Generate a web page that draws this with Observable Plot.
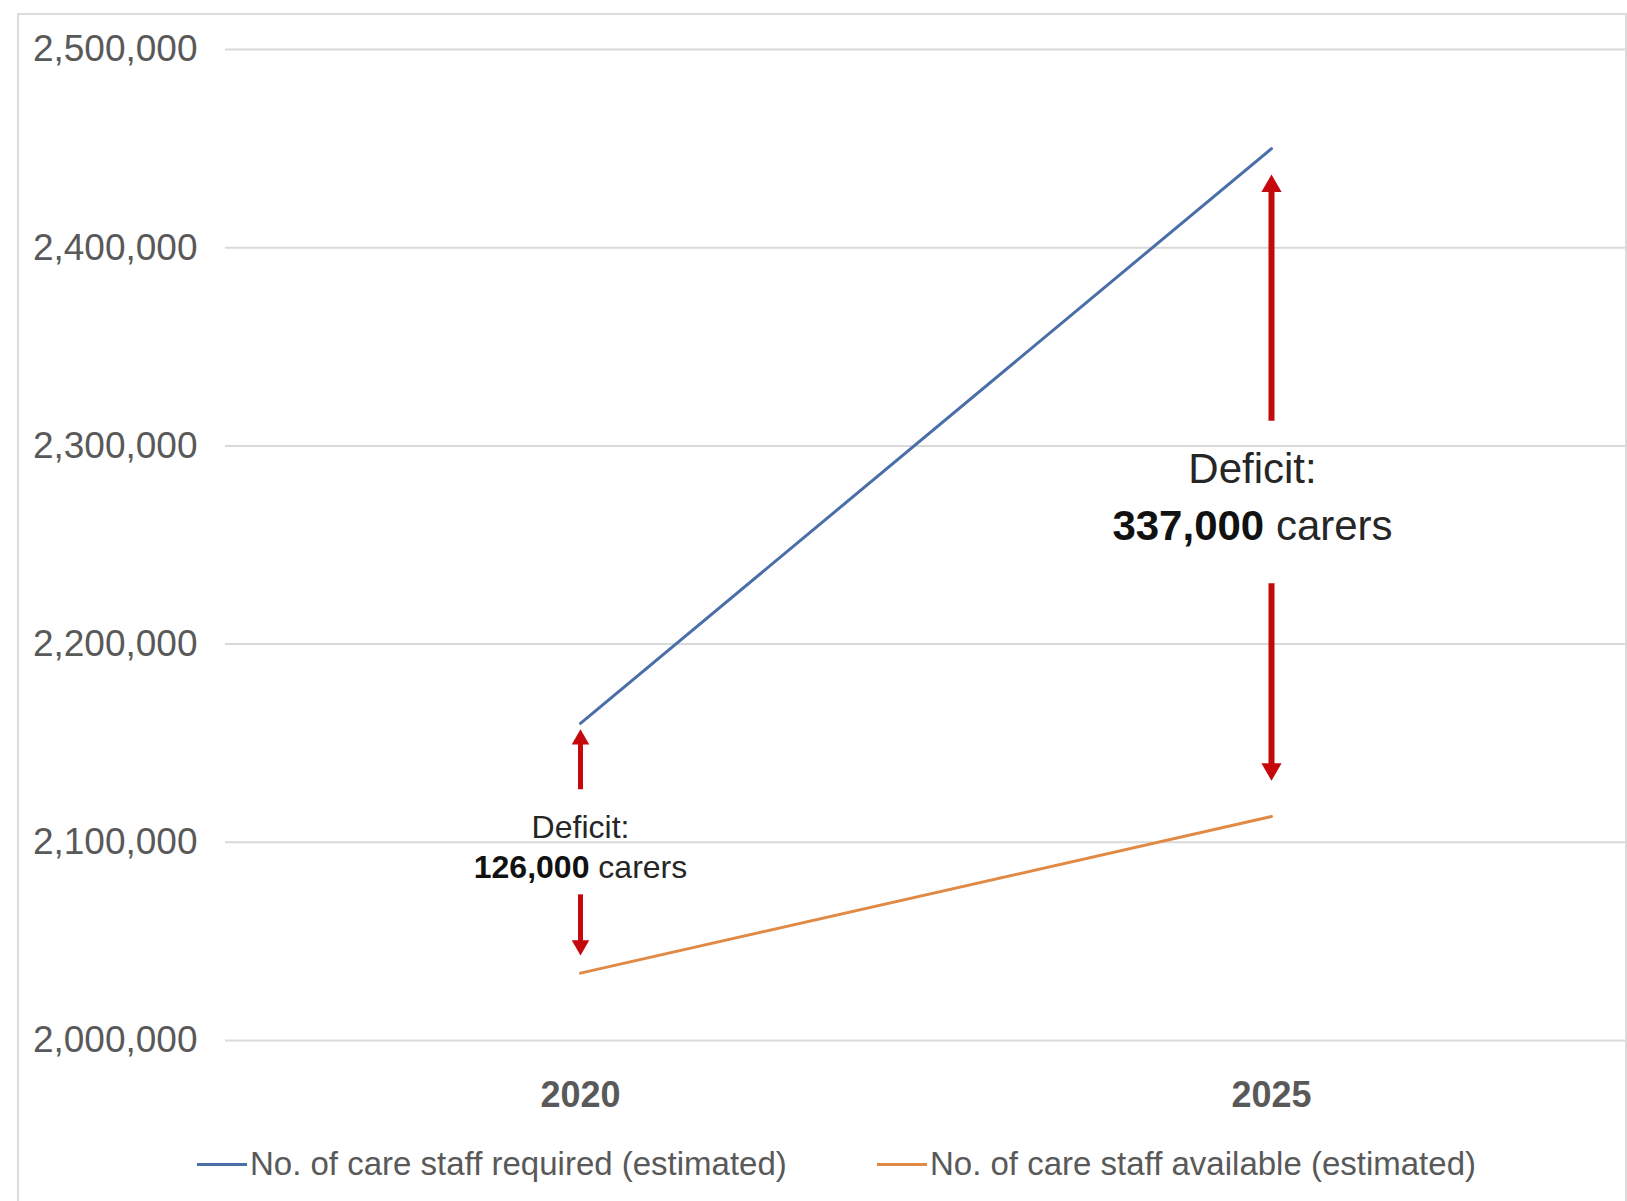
<!DOCTYPE html>
<html><head><meta charset="utf-8">
<script src="https://cdn.jsdelivr.net/npm/d3@7"></script>
<script src="https://cdn.jsdelivr.net/npm/@observablehq/plot@0.6"></script>
<style>
html,body{margin:0;padding:0;background:#fff;}
body{width:1627px;height:1201px;position:relative;overflow:hidden;font-family:"Liberation Sans",Arial,sans-serif;}
#frame{position:absolute;left:17px;top:13px;width:1610px;height:1250px;border:2px solid #dcdcdc;box-sizing:border-box;}
#chart{position:absolute;left:0;top:0;}
#legend{position:absolute;left:0;top:1120px;width:1627px;height:90px;}
.item{position:absolute;top:0;height:88px;display:flex;align-items:center;font-size:33px;color:#595959;white-space:nowrap;}
.sw{width:50px;height:3px;margin-right:3px;}
</style></head><body>
<div id="frame"></div><div id="chart"></div><div id="legend"></div>
<script>
const years = ["2020", "2025"];
const seriesNames = ["No. of care staff required (estimated)", "No. of care staff available (estimated)"];
const requiredStaff = [2160000, 2450000];
const availableStaff = [2034000, 2113000];
const yTicks = [2000000, 2100000, 2200000, 2300000, 2400000, 2500000];
const deficitHeading = ["Deficit:", "Deficit:"];
const deficitText = ["126,000 carers", "337,000 carers"];
const headingY = [2107500, 2288000];
const amountY = [2087000, 2259500];
const upTip = [2157000, 2437000];
const upTail = [2126500, 2312500];
const downTail = [2073500, 2230500];
const downTip = [2043000, 2131000];
const seriesColors = ["#4a6fa8", "#e08a45"];

const lineData = years.flatMap((yr, i) => [
  {year: yr, value: requiredStaff[i], series: seriesNames[0]},
  {year: yr, value: availableStaff[i], series: seriesNames[1]}
]);
const notes = years.map((yr, i) => ({
  year: yr, upTip: upTip[i], upTail: upTail[i], downTail: downTail[i], downTip: downTip[i],
  heading: deficitHeading[i], text: deficitText[i], headingY: headingY[i], amountY: amountY[i]
}));
const small = notes.filter(d => d.year === "2020");
const big = notes.filter(d => d.year === "2025");
const red = "#c4080c";

function arrowMarks(data, w, r, off, fs, tdx) {
  return [
    Plot.ruleX(data, {x: "year", y1: "upTip", y2: "upTail", stroke: red, strokeWidth: w, insetTop: off}),
    Plot.ruleX(data, {x: "year", y1: "downTail", y2: "downTip", stroke: red, strokeWidth: w, insetBottom: off}),
    Plot.dot(data, {x: "year", y: "upTip", symbol: "triangle", r, fill: red, stroke: null, dy: off}),
    Plot.dot(data, {x: "year", y: "downTip", symbol: "triangle", r, fill: red, stroke: null, rotate: 180, dy: -off}),
    Plot.text(data, {x: "year", y: "headingY", text: "heading", fontSize: fs, fill: "#262626", dx: tdx}),
    Plot.text(data, {x: "year", y: "amountY", text: "text", fontSize: fs, fill: "#262626", dx: tdx})
  ];
}

const chart = Plot.plot({
  width: 1627,
  height: 1120,
  marginTop: 49,
  marginBottom: 80,
  marginLeft: 225,
  marginRight: 2,
  style: {fontFamily: '"Liberation Sans", Arial, sans-serif', fontSize: "37px", color: "#595959", background: "transparent", overflow: "visible"},
  x: {type: "point", domain: years, padding: 0.513},
  y: {domain: [2000000, 2500000]},
  color: {domain: seriesNames, range: seriesColors},
  marks: [
    Plot.ruleY(yTicks, {stroke: "#d9d9d9", strokeWidth: 2}),
    Plot.axisY(yTicks, {tickSize: 0, tickPadding: 28, tickFormat: d3.format(","), fontSize: 37, label: null}),
    Plot.axisX({tickSize: 0, tickPadding: 41, fontWeight: "bold", fontSize: 36, label: null}),
    Plot.line(lineData, {x: "year", y: "value", z: "series", stroke: "series", strokeWidth: 3}),
    ...arrowMarks(small, 5, 6.5, 10, 32, 0),
    ...arrowMarks(big, 6, 7.5, 11.7, 42, -19)
  ]
});

d3.select(chart).selectAll("text").each(function() {
  const m = this.textContent.match(/^([\d,]+) (carers)$/);
  if (m && this.children.length === 0) {
    const s = d3.select(this);
    s.text(null);
    s.append("tspan").attr("font-weight", "bold").attr("fill", "#111").text(m[1]);
    s.append("tspan").text(" " + m[2]);
  }
});
document.getElementById("chart").append(chart);

const legend = d3.select("#legend");
const legendLeft = [197, 877];
seriesNames.forEach((name, i) => {
  const it = legend.append("div").attr("class", "item").style("left", legendLeft[i] + "px");
  it.append("div").attr("class", "sw").style("background", seriesColors[i]);
  it.append("span").text(name);
});
</script>
</body></html>
